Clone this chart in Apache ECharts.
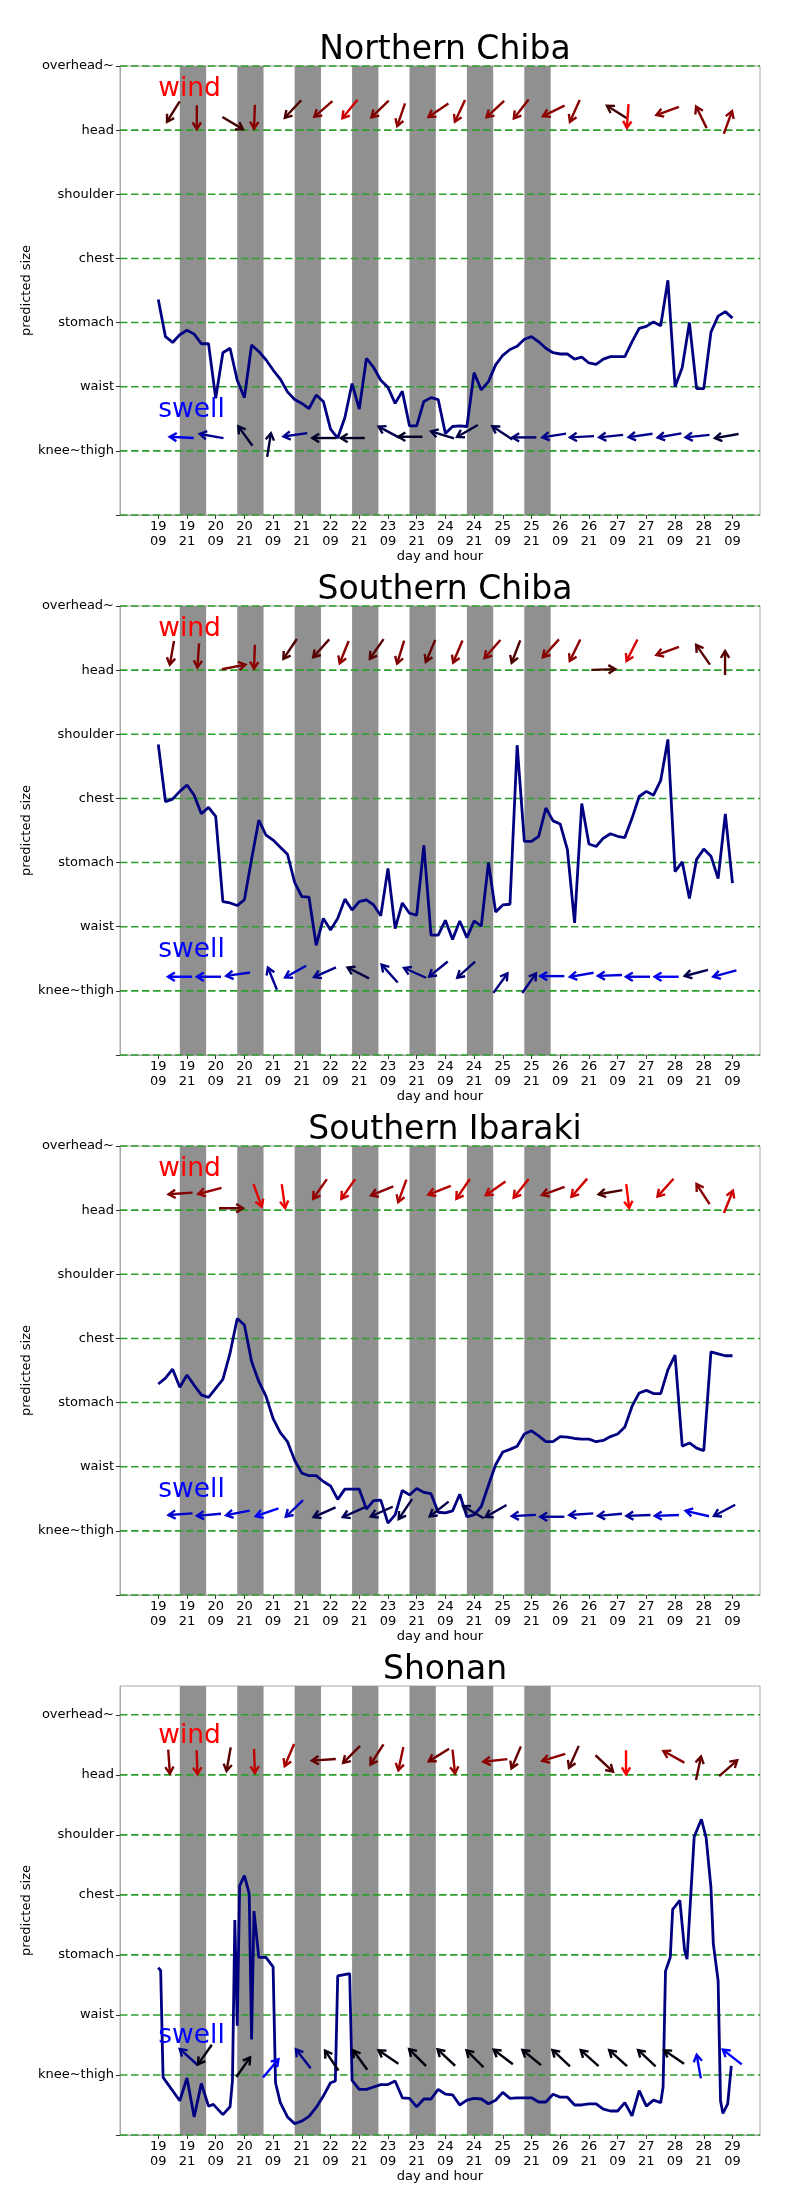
<!DOCTYPE html>
<html>
<head>
<meta charset="utf-8">
<script src="https://cdn.jsdelivr.net/npm/echarts@6.0.0/dist/echarts.min.js"></script>
<style>
  html, body { margin: 0; padding: 0; background: #fff; }
  #chart { width: 800px; height: 2200px; }
</style>
</head>
<body>
<div id="chart"></div>
<script>
// x is hours after the 19th 09:00
const xTickHours = [0, 12, 24, 36, 48, 60, 72, 84, 96, 108, 120, 132, 144, 156, 168, 180, 192, 204, 216, 228, 240];
const xTickLabels = ['19\n09', '19\n21', '20\n09', '20\n21', '21\n09', '21\n21', '22\n09', '22\n21', '23\n09', '23\n21',
  '24\n09', '24\n21', '25\n09', '25\n21', '26\n09', '26\n21', '27\n09', '27\n21', '28\n09', '28\n21', '29\n09'];
const levelValues = [0, 1, 2, 3, 4, 5, 6, 7];
const levelNames = ['', 'knee~thigh', 'waist', 'stomach', 'chest', 'shoulder', 'head', 'overhead~'];

// night (grey) spans
const nightStart = [9, 33, 57, 81, 105, 129, 153];
const nightEnd = [20, 44, 68, 92, 116, 140, 164];

// "wind" / "swell" notes
const noteHours = [0, 0];
const noteLevels = [6.5, 1.5];
const noteTexts = ['wind', 'swell'];

// forecasts every 3 hours (Chiba / Ibaraki)
const stepHours = Array.from({ length: 81 }, (_, i) => i * 3);

const northSize = [3.36, 2.78, 2.69, 2.81, 2.88, 2.82, 2.67, 2.67, 1.82, 2.53,
  2.60, 2.10, 1.83, 2.65, 2.55, 2.42, 2.26, 2.12, 1.92, 1.80,
  1.74, 1.66, 1.87, 1.77, 1.34, 1.20, 1.52, 2.05, 1.65, 2.44,
  2.30, 2.10, 1.99, 1.74, 1.93, 1.39, 1.39, 1.77, 1.83, 1.80,
  1.27, 1.38, 1.39, 1.38, 2.22, 1.95, 2.08, 2.34, 2.49, 2.58,
  2.63, 2.74, 2.78, 2.70, 2.60, 2.53, 2.51, 2.51, 2.43, 2.46,
  2.37, 2.35, 2.43, 2.47, 2.47, 2.47, 2.70, 2.91, 2.94, 3.01,
  2.95, 3.66, 2.00, 2.30, 3.00, 1.97, 1.97, 2.85, 3.10, 3.17,
  3.07];

const southChibaSize = [4.84, 3.95, 3.99, 4.11, 4.21, 4.05, 3.76, 3.86, 3.72, 2.39,
  2.37, 2.33, 2.42, 3.05, 3.66, 3.43, 3.35, 3.24, 3.13, 2.69,
  2.47, 2.46, 1.71, 2.13, 1.95, 2.13, 2.43, 2.26, 2.39, 2.42,
  2.34, 2.17, 2.91, 1.97, 2.37, 2.21, 2.18, 3.27, 1.87, 1.87,
  2.10, 1.80, 2.09, 1.83, 2.09, 2.01, 3.00, 2.23, 2.34, 2.35,
  4.83, 3.33, 3.33, 3.41, 3.85, 3.65, 3.60, 3.20, 2.06, 3.92,
  3.29, 3.25, 3.38, 3.45, 3.41, 3.39, 3.69, 4.03, 4.11, 4.05,
  4.28, 4.92, 2.86, 3.01, 2.44, 3.05, 3.21, 3.10, 2.75, 3.76,
  2.68];

const ibarakiSize = [3.29, 3.38, 3.52, 3.24, 3.43, 3.27, 3.12, 3.08, 3.22, 3.36,
  3.77, 4.31, 4.21, 3.64, 3.33, 3.10, 2.75, 2.53, 2.39, 2.10,
  1.90, 1.86, 1.86, 1.77, 1.70, 1.49, 1.65, 1.65, 1.65, 1.34,
  1.47, 1.48, 1.12, 1.25, 1.63, 1.56, 1.66, 1.60, 1.58, 1.29,
  1.28, 1.31, 1.57, 1.22, 1.25, 1.38, 1.71, 2.03, 2.23, 2.27,
  2.32, 2.51, 2.56, 2.48, 2.39, 2.39, 2.47, 2.46, 2.44, 2.43,
  2.43, 2.39, 2.41, 2.47, 2.51, 2.62, 2.94, 3.15, 3.19, 3.14,
  3.14, 3.51, 3.74, 2.32, 2.37, 2.29, 2.25, 3.79, 3.76, 3.73,
  3.73];

// Shonan is sampled irregularly
const shonanHours = [0, 1, 2, 9, 12, 15, 18, 21, 23, 27,
  30, 31, 32, 33, 34, 36, 38, 39, 40, 42,
  45, 48, 49, 51, 54, 57, 60, 63, 66, 69,
  72, 74, 75, 80, 81, 84, 87, 90, 93, 96,
  99, 102, 105, 108, 111, 114, 117, 120, 123, 126,
  129, 132, 135, 138, 141, 144, 147, 150, 153, 156,
  159, 162, 165, 168, 171, 174, 177, 180, 183, 186,
  189, 192, 195, 198, 201, 204, 207, 210, 211, 212,
  214, 215, 218, 220, 221, 224, 227, 229, 231, 232,
  234, 235, 236, 238, 239.5];
const shonanSize = [2.79, 2.74, 0.96, 0.57, 0.95, 0.30, 0.86, 0.48, 0.51, 0.34,
  0.47, 0.90, 3.58, 1.82, 4.15, 4.32, 4.02, 1.59, 3.73, 2.96,
  2.96, 2.80, 0.87, 0.54, 0.30, 0.19, 0.23, 0.31, 0.46, 0.65,
  0.87, 0.90, 2.65, 2.69, 0.91, 0.76, 0.76, 0.80, 0.84, 0.84,
  0.90, 0.62, 0.61, 0.47, 0.60, 0.60, 0.76, 0.68, 0.67, 0.50,
  0.58, 0.61, 0.60, 0.52, 0.58, 0.71, 0.61, 0.62, 0.62, 0.62,
  0.55, 0.55, 0.68, 0.63, 0.63, 0.50, 0.50, 0.52, 0.52, 0.43,
  0.40, 0.40, 0.54, 0.32, 0.74, 0.48, 0.58, 0.54, 0.80, 2.73,
  2.96, 3.76, 3.91, 3.07, 2.93, 4.97, 5.26, 4.95, 4.12, 3.18,
  2.57, 0.57, 0.36, 0.52, 1.15];

// arrows: [hour, level, direction (deg, 0 = east, 90 = up), strength 0..1]
const northWind = [[6.3, 6.29, 238, 0.3], [16.1, 6.20, 270, 0.5], [31.1, 6.11, 329, 0.25], [40.2, 6.21, 268, 0.55],
  [56.3, 6.33, 227, 0.3], [69.0, 6.33, 221, 0.5], [80.1, 6.33, 231, 0.8], [92.7, 6.33, 224, 0.5],
  [101.5, 6.24, 251, 0.55], [117.1, 6.31, 214, 0.55], [126.1, 6.30, 245, 0.6], [140.9, 6.33, 223, 0.55],
  [151.7, 6.33, 232, 0.55], [165.3, 6.30, 206, 0.55], [174.1, 6.30, 246, 0.55], [191.8, 6.28, 148, 0.25],
  [196.2, 6.22, 266, 0.9], [212.9, 6.30, 200, 0.55], [227.0, 6.20, 116, 0.5], [238.1, 6.12, 70, 0.55]];
const northSwell = [[9.8, 1.21, 177, 0.9], [22.3, 1.23, 170, 0.55], [36.4, 1.23, 126, 0.2], [46.3, 1.09, 81, 0.25],
  [57.3, 1.25, 188, 0.55], [69.4, 1.20, 180, 0.15], [81.3, 1.20, 180, 0.15], [96.5, 1.29, 152, 0.3],
  [105.4, 1.22, 180, 0.15], [118.8, 1.25, 163, 0.25], [129.2, 1.31, 210, 0.25], [143.8, 1.28, 147, 0.3],
  [153.0, 1.21, 180, 0.45], [165.5, 1.24, 189, 0.55], [177.1, 1.22, 183, 0.5], [189.3, 1.23, 186, 0.5],
  [201.6, 1.24, 188, 0.55], [213.7, 1.24, 190, 0.55], [225.4, 1.23, 186, 0.55], [237.6, 1.23, 190, 0.2]];

const southChibaWind = [[5.7, 6.27, 260, 0.45], [16.7, 6.23, 266, 0.5], [31.5, 6.05, 11, 0.5], [40.2, 6.21, 268, 0.55],
  [55.1, 6.33, 236, 0.3], [68.1, 6.34, 228, 0.35], [77.7, 6.28, 248, 0.55], [91.3, 6.33, 235, 0.35],
  [101.3, 6.28, 253, 0.5], [113.8, 6.30, 247, 0.4], [125.2, 6.29, 247, 0.55], [139.7, 6.33, 229, 0.55],
  [149.5, 6.29, 249, 0.3], [164.1, 6.34, 228, 0.55], [174.2, 6.31, 244, 0.55], [186.0, 6.01, 2, 0.3],
  [198.0, 6.31, 243, 0.85], [212.9, 6.30, 200, 0.55], [227.7, 6.24, 125, 0.35], [236.9, 6.11, 90, 0.35]];
const southChibaSwell = [[9.1, 1.22, 180, 1.0], [21.2, 1.22, 180, 0.9], [33.4, 1.26, 188, 0.8], [47.7, 1.19, 112, 0.6],
  [57.4, 1.30, 209, 0.75], [69.7, 1.29, 204, 0.55], [83.6, 1.28, 153, 0.25], [96.7, 1.27, 132, 0.5],
  [107.3, 1.28, 156, 0.5], [117.1, 1.34, 219, 0.5], [128.7, 1.33, 222, 0.45], [143.0, 1.12, 54, 0.5],
  [155.0, 1.12, 55, 0.5], [164.7, 1.23, 180, 0.85], [177.0, 1.25, 190, 0.85], [188.8, 1.24, 182, 0.85],
  [200.5, 1.22, 180, 0.85], [212.5, 1.22, 180, 1.0], [224.9, 1.28, 195, 0.3], [236.8, 1.27, 195, 0.85]];

const ibarakiWind = [[9.3, 6.26, 184, 0.5], [21.6, 6.30, 195, 0.6], [30.4, 6.03, 0, 0.45], [41.5, 6.23, 290, 0.9],
  [52.3, 6.22, 278, 0.95], [67.6, 6.33, 235, 0.6], [79.4, 6.33, 235, 0.8], [93.6, 6.30, 202, 0.55],
  [102.0, 6.30, 250, 0.7], [117.6, 6.31, 201, 0.7], [127.4, 6.33, 236, 0.8], [141.0, 6.34, 215, 0.75],
  [151.7, 6.34, 231, 0.8], [165.1, 6.30, 200, 0.55], [176.0, 6.35, 229, 0.8], [189.0, 6.28, 190, 0.3],
  [196.2, 6.22, 277, 1.0], [212.0, 6.35, 228, 0.8], [227.7, 6.25, 123, 0.55], [238.3, 6.13, 68, 0.8]];
const ibarakiSwell = [[9.3, 1.26, 184, 0.8], [21.2, 1.25, 185, 0.8], [33.3, 1.28, 191, 0.85], [45.5, 1.29, 199, 1.0],
  [56.9, 1.35, 224, 0.75], [69.5, 1.29, 204, 0.3], [81.7, 1.29, 204, 0.35], [93.4, 1.30, 204, 0.3],
  [103.3, 1.34, 236, 0.25], [117.4, 1.34, 218, 0.3], [131.7, 1.29, 150, 0.3], [141.2, 1.31, 210, 0.3],
  [152.8, 1.24, 183, 0.65], [164.7, 1.22, 180, 0.6], [176.8, 1.26, 184, 0.65], [188.8, 1.25, 185, 0.6],
  [200.7, 1.24, 182, 0.6], [212.6, 1.24, 182, 0.85], [225.3, 1.27, 167, 0.9], [236.7, 1.32, 208, 0.55]];

const shonanWind = [[4.5, 6.22, 274, 0.5], [16.2, 6.21, 272, 0.75], [29.4, 6.26, 260, 0.35], [40.2, 6.23, 272, 0.75],
  [54.8, 6.33, 247, 0.65], [69.2, 6.25, 184, 0.4], [80.8, 6.34, 225, 0.4], [91.4, 6.34, 237, 0.45],
  [101.4, 6.27, 258, 0.6], [117.3, 6.33, 212, 0.45], [123.5, 6.22, 276, 0.6], [140.9, 6.24, 186, 0.55],
  [149.6, 6.29, 247, 0.4], [165.3, 6.29, 197, 0.55], [173.7, 6.30, 246, 0.35], [186.4, 6.19, 317, 0.35],
  [195.5, 6.21, 270, 1.0], [215.5, 6.30, 151, 0.55], [225.8, 6.11, 78, 0.4], [238.2, 6.11, 41, 0.4]];
const shonanSwell = [[12.7, 1.30, 138, 0.55], [19.5, 1.34, 235, 0.05], [35.5, 1.13, 55, 0.05], [47.0, 1.11, 50, 1.0],
  [60.6, 1.27, 128, 0.55], [72.5, 1.24, 124, 0.05], [84.4, 1.25, 126, 0.05], [96.2, 1.30, 146, 0.05],
  [108.4, 1.29, 135, 0.05], [120.4, 1.29, 137, 0.05], [132.4, 1.27, 135, 0.05], [144.2, 1.30, 143, 0.05],
  [156.1, 1.29, 141, 0.05], [168.4, 1.28, 137, 0.05], [180.3, 1.28, 138, 0.05], [192.2, 1.28, 138, 0.05],
  [204.2, 1.28, 137, 0.05], [215.6, 1.30, 146, 0.05], [225.9, 1.14, 100, 0.9], [239.9, 1.30, 142, 1.0]];

const panels = [
  { title: 'Northern Chiba', hours: stepHours, size: northSize, wind: northWind, swell: northSwell, yMax: 7 },
  { title: 'Southern Chiba', hours: stepHours, size: southChibaSize, wind: southChibaWind, swell: southChibaSwell, yMax: 7 },
  { title: 'Southern Ibaraki', hours: stepHours, size: ibarakiSize, wind: ibarakiWind, swell: ibarakiSwell, yMax: 7 },
  { title: 'Shonan', hours: shonanHours, size: shonanSize, wind: shonanWind, swell: shonanSwell, yMax: 7.48 }
];

const FONT = 'DejaVu Sans';
const X_MIN = -16, X_MAX = 251.5;

function arrowRenderer(colorOf) {
  return function (params, api) {
    const p = api.coord([api.value(0), api.value(1)]);
    const a = api.value(2) * Math.PI / 180;
    const ux = Math.cos(a), uy = -Math.sin(a);
    const half = 12;
    const tail = [p[0] - ux * half, p[1] - uy * half];
    const tip = [p[0] + ux * half, p[1] + uy * half];
    const hl = 8, s = 0.55;
    const leg = (t) => [tip[0] - hl * (ux * Math.cos(t) - uy * Math.sin(t)),
                        tip[1] - hl * (ux * Math.sin(t) + uy * Math.cos(t))];
    const color = colorOf(api.value(3));
    const st = { stroke: color, lineWidth: 2.4, fill: null, lineJoin: 'miter' };
    return {
      type: 'group',
      children: [
        { type: 'polyline', shape: { points: [tail, tip] }, style: st },
        { type: 'polyline', shape: { points: [leg(s), tip, leg(-s)] }, style: st }
      ]
    };
  };
}
const windColor = v => 'rgb(' + Math.round(255 * v) + ',0,0)';
const swellColor = v => 'rgb(0,0,' + Math.round(255 * v) + ')';

const option = {
  animation: false,
  backgroundColor: '#fff',
  title: [], grid: [], xAxis: [], yAxis: [], series: []
};

panels.forEach((p, i) => {
  const top = 66 + 540 * i;
  option.title.push({
    text: p.title, left: 440, top: top - 37, textAlign: 'center',
    textStyle: { fontFamily: FONT, fontSize: 33, fontWeight: 'normal', color: '#000' }
  });
  option.grid.push({
    left: 120, top: top, width: 640, height: 449,
    show: true, borderColor: '#a8a8a8', borderWidth: 1, backgroundColor: 'transparent'
  });
  option.xAxis.push({
    gridIndex: i, type: 'value', min: X_MIN, max: X_MAX,
    name: 'day and hour', nameLocation: 'middle', nameGap: 35, nameMoveOverlap: false,
    nameTextStyle: { fontFamily: FONT, fontSize: 13, color: '#000' },
    axisLine: { show: true, onZero: false, lineStyle: { color: '#a8a8a8' } },
    splitLine: { show: false },
    axisTick: { show: true, customValues: xTickHours, length: 4, lineStyle: { color: '#333' } },
    axisLabel: {
      customValues: xTickHours,
      formatter: v => { const k = xTickHours.indexOf(v); return k >= 0 ? xTickLabels[k] : ''; },
      fontFamily: FONT, fontSize: 13, lineHeight: 15, color: '#000', margin: 4
    }
  });
  option.yAxis.push({
    gridIndex: i, type: 'value', min: 0, max: p.yMax,
    name: 'predicted size', nameLocation: 'middle', nameGap: 87, nameMoveOverlap: false,
    nameTextStyle: { fontFamily: FONT, fontSize: 13, color: '#000' },
    axisLine: { show: true, onZero: false, lineStyle: { color: '#a8a8a8' } },
    splitLine: { show: false },
    axisTick: { show: true, customValues: levelValues, length: 4, lineStyle: { color: '#333' } },
    axisLabel: {
      customValues: levelValues,
      formatter: v => levelNames[Math.round(v)] || '',
      fontFamily: FONT, fontSize: 13, color: '#000', margin: 6
    }
  });

  // night bands
  option.series.push({
    type: 'custom', xAxisIndex: i, yAxisIndex: i, z: 1, silent: true,
    data: nightStart.map((s, k) => [s, nightEnd[k], p.yMax, 0]),
    renderItem: (params, api) => {
      const a = api.coord([api.value(0), api.value(2)]);
      const b = api.coord([api.value(1), api.value(3)]);
      return { type: 'rect', shape: { x: a[0], y: a[1], width: b[0] - a[0], height: b[1] - a[1] },
               style: { fill: '#909090' } };
    }
  });
  // size levels (dashed green)
  option.series.push({
    type: 'custom', xAxisIndex: i, yAxisIndex: i, z: 2, silent: true,
    data: levelValues.map(v => [X_MIN, v]),
    renderItem: (params, api) => {
      const cs = params.coordSys;
      const y = api.coord([api.value(0), api.value(1)])[1];
      return { type: 'line', shape: { x1: cs.x, y1: y, x2: cs.x + cs.width, y2: y },
               style: { stroke: '#2ca02c', lineWidth: 1.6, lineDash: [7.5, 3.5] } };
    }
  });
  // predicted size
  option.series.push({
    type: 'line', xAxisIndex: i, yAxisIndex: i, z: 3,
    data: p.hours.map((h, k) => [h, p.size[k]]),
    showSymbol: false, symbol: 'none',
    lineStyle: { color: '#000080', width: 2.8 }
  });
  // wind and swell arrows
  option.series.push({
    type: 'custom', xAxisIndex: i, yAxisIndex: i, z: 4, silent: true,
    data: p.wind, renderItem: arrowRenderer(windColor)
  });
  option.series.push({
    type: 'custom', xAxisIndex: i, yAxisIndex: i, z: 4, silent: true,
    data: p.swell, renderItem: arrowRenderer(swellColor)
  });
  // notes
  option.series.push({
    type: 'custom', xAxisIndex: i, yAxisIndex: i, z: 5, silent: true,
    data: noteHours.map((h, k) => [h, noteLevels[k]]),
    renderItem: (params, api) => {
      const c = api.coord([api.value(0), api.value(1)]);
      return {
        type: 'text', x: c[0], y: c[1] - 9,
        style: {
          text: noteTexts[params.dataIndex],
          fill: params.dataIndex === 0 ? '#ff0000' : '#0000ff',
          font: '26.5px "DejaVu Sans"', align: 'left', verticalAlign: 'middle'
        }
      };
    }
  });
});

const chart = echarts.init(document.getElementById('chart'));
chart.setOption(option);
</script>
</body>
</html>
